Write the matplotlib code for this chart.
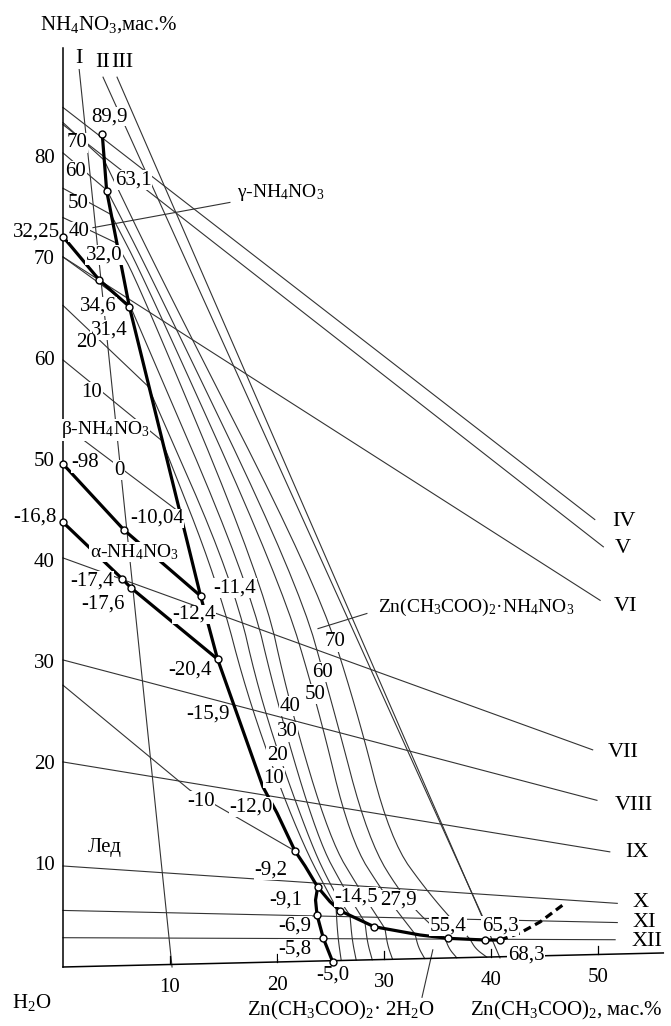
import numpy as np
import matplotlib.pyplot as plt

plt.rcParams['font.family'] = ['Liberation Serif', 'DejaVu Serif']
plt.rcParams['mathtext.fontset'] = 'custom'
plt.rcParams['mathtext.rm'] = 'Liberation Serif'
plt.rcParams['mathtext.it'] = 'Liberation Serif:italic'

# x = Zn(CH3COO)2, mass %; y = NH4NO3, mass %
# bold boundary curves
gamma_x = [3.67, 4.08, 6.20]
gamma_y = [82.44, 76.83, 65.38]
beta_gamma_x = [0.0, 3.39, 6.20]
beta_gamma_y = [72.31, 68.02, 65.38]
beta_ds_x = [6.20, 12.86]
beta_ds_y = [65.38, 36.73]
alpha_beta_x = [0.0, 5.70, 12.86]
alpha_beta_y = [49.8, 43.27, 36.73]
ice_alpha_x = [0.0, 5.54, 6.33, 14.42]
ice_alpha_y = [44.03, 38.42, 37.56, 30.5]
ds_low_x = [12.86, 14.44, 18.69, 20.0, 21.68, 22.62, 23.80]
ds_low_y = [36.73, 30.5, 17.82, 15.25, 11.49, 10.0, 7.92]
ice_hyd_x = [23.80, 23.6, 23.74, 24.33, 25.2]
ice_hyd_y = [7.92, 6.63, 5.15, 2.84, 0.52]
ds_hyd_x = [23.80, 24.95, 25.89, 29.07, 33.36, 35.95, 39.44, 40.84]
ds_hyd_y = [7.92, 6.47, 5.57, 3.99, 3.17, 2.84, 2.67, 2.67]
meta_x = [40.84, 42.71, 44.58, 46.92]
meta_y = [2.67, 3.37, 4.46, 6.31]

# invariant / marked points
pts_x = [3.67, 4.08, 0.0, 3.39, 6.20, 0.0, 5.70, 0.0, 5.54, 6.33, 12.86, 14.44,
         21.68, 23.80, 23.74, 24.33, 25.2, 25.89, 29.07, 35.95, 39.44, 40.84]
pts_y = [82.44, 76.83, 72.31, 68.02, 65.38, 49.8, 43.27, 44.03, 38.42, 37.56, 36.73, 30.5,
         11.49, 7.92, 5.15, 2.84, 0.52, 5.57, 3.99, 2.84, 2.67, 2.67]

# sections I..XII: start and end
sec_names = ['I', 'II', 'III', 'IV', 'V', 'VI', 'VII', 'VIII', 'IX', 'X', 'XI', 'XII']
sec_x0 = [1.50, 3.74, 5.05, 0, 0, 0, 0, 0, 0, 0, 0, 0]
sec_y0 = [89.0, 88.1, 88.1, 85.1, 83.4, 70.3, 40.5, 30.4, 20.3, 10.0, 5.6, 2.9]
sec_x1 = [10.19, 39.25, 40.84, 49.7, 50.5, 50.2, 49.5, 49.9, 51.1, 51.8, 51.8, 51.6]
sec_y1 = [0.0, 4.9, 0.9, 44.3, 41.6, 36.3, 21.5, 16.5, 11.4, 6.3, 4.4, 2.7]

# isotherm branches in the NH4NO3 (gamma, beta) and ice fields
iso_t = [70, 60, 50, 40, 30, 20, 10, 0, -10]
iso_x = [[0, 3.83], [0, 4.11], [0, 4.49], [0, 4.95], [0, 6.26], [0, 7.94],
         [0, 9.25], [0, 10.93], [0, 11.87, 21.68]]
iso_y = [[83.6, 79.9], [80.6, 76.9], [77.1, 74.5], [74.2, 71.7], [70.3, 65.5],
         [65.5, 57.5], [60.1, 52.1], [53.7, 45.0], [27.9, 17.5, 11.49]]

# isotherm branches in the double salt field (last point lies on the boundary)
ds_t = [10, 20, 30, 40, 50, 60, 70]
ds_x = [[9.25, 14.39, 17.48, 22.15],
        [7.94, 15.89, 18.60, 22.99, 25.23],
        [6.26, 17.29, 20.09, 23.83, 26.36],
        [4.95, 6.92, 18.60, 21.21, 24.95, 27.76],
        [4.49, 7.66, 20.28, 23.83, 26.82, 30.09],
        [4.11, 8.41, 21.87, 25.23, 28.50, 31.96],
        [3.83, 9.25, 23.55, 27.38, 30.56, 34.30]]
ds_y = [[52.1, 38.3, 25.8, 12.6],
        [57.5, 38.3, 25.8, 12.6, 7.6],
        [65.5, 38.3, 25.8, 12.6, 7.6],
        [71.7, 68.0, 38.3, 25.8, 12.6, 7.6],
        [74.5, 68.0, 38.3, 25.8, 12.6, 7.1],
        [76.9, 68.0, 38.3, 25.8, 12.6, 6.6],
        [79.9, 68.0, 38.3, 25.8, 12.6, 7.1]]
ds_end_x = [25.51, 26.82, 28.22, 30.09, 32.90, 35.70, 38.04]
# isotherm branches in the Zn(CH3COO)2*2H2O field: foot on the base line
hyd_foot_x = [26.0, 27.4, 28.9, 30.8, 33.8, 36.8, 39.6]

y_ticks = [10, 20, 30, 40, 50, 60, 70, 80]
x_ticks = [10, 20, 30, 40, 50]
base_end = (56.1, 1.39)


def smooth(xs, ys, n=3):
    # corner cutting, end points kept
    p = np.column_stack([xs, ys]).astype(float)
    for _ in range(n):
        q = [p[0]]
        for a, b in zip(p[:-1], p[1:]):
            q.append(0.75 * a + 0.25 * b)
            q.append(0.25 * a + 0.75 * b)
        q.append(p[-1])
        p = np.array(q)
    return p[:, 0], p[:, 1]


fig = plt.figure(figsize=(6.71, 10.26), dpi=100)
ax = fig.add_axes([0, 0, 1, 1])
ax.set_xlim(-5.888, 56.82)
ax.set_ylim(-5.842, 95.74)
ax.axis('off')

thin = dict(color='#333333', lw=0.8, zorder=1)
bold = dict(color='black', lw=2.3, zorder=2, solid_capstyle='round')

# axes
ax.plot([0, 0], [0, 91], color='black', lw=1.1, zorder=2)
ax.plot([0, base_end[0]], [0, base_end[1]], color='black', lw=1.1, zorder=2)
slope = base_end[1] / base_end[0]
for t in x_ticks:
    ax.plot([t, t], [slope * t, slope * t + 0.8], color='black', lw=0.9)
    ax.text(t, slope * t - 2.3, str(t), ha='center', va='center', fontsize=15)
for t in y_ticks:
    ax.text(-0.75, t, str(t), ha='right', va='center', fontsize=15)

# thin lines
for i in range(len(sec_names)):
    ax.plot([sec_x0[i], sec_x1[i]], [sec_y0[i], sec_y1[i]], **thin)
for i in range(len(iso_t)):
    ax.plot(iso_x[i], iso_y[i], **thin)
ds_end_y = np.interp(ds_end_x, ds_hyd_x, ds_hyd_y)
for i in range(len(ds_t)):
    sx, sy = smooth(ds_x[i] + [ds_end_x[i]], ds_y[i] + [ds_end_y[i]])
    ax.plot(sx, sy, **thin)
for xt, yt, xf in zip(ds_end_x, ds_end_y, hyd_foot_x):
    xm = xt + 0.35 * (xf - xt)
    ym = slope * xf + 0.45 * (yt - slope * xf)
    sx, sy = smooth([xt, xm, xf], [yt, ym, slope * xf])
    ax.plot(sx, sy, **thin)

# bold curves
for cx, cy in [(gamma_x, gamma_y), (beta_gamma_x, beta_gamma_y), (beta_ds_x, beta_ds_y),
               (alpha_beta_x, alpha_beta_y), (ice_alpha_x, ice_alpha_y),
               (ds_low_x, ds_low_y), (ice_hyd_x, ice_hyd_y), (ds_hyd_x, ds_hyd_y)]:
    ax.plot(cx, cy, **bold)
ax.plot(meta_x, meta_y, color='black', lw=2.3, ls=(0, (2.5, 1.5)), zorder=2)
ax.plot(pts_x, pts_y, 'o', ms=5, mfc='white', mec='black', mew=1.0, ls='none', zorder=5)

box = dict(fc='white', ec='none', pad=0.3)
fs = 15

# section labels
sec_lx = [1.45, 3.74, 5.5, 51.3, 51.6, 51.5, 50.9, 51.6, 52.5, 53.2, 53.2, 53.1]
sec_ly = [89.9, 89.6, 89.6, 44.1, 41.4, 35.7, 21.2, 16.0, 11.3, 6.4, 4.4, 2.5]
for i, n in enumerate(sec_names):
    ha = 'center' if i < 3 else 'left'
    ax.text(sec_lx[i], sec_ly[i], n, ha=ha, va='center', fontsize=16, bbox=box, zorder=3)

labels = [
    ('89,9', 4.39, 84.2), ('63,1', 6.54, 77.9), ('32,25', -2.5, 72.8), ('40', 1.5, 72.8),
    ('70', 1.31, 81.6), ('60', 1.2, 78.8), ('50', 1.4, 75.6), ('32,0', 3.83, 70.5),
    ('34,6', 3.27, 65.4), ('31,4', 4.3, 63.1), ('20', 2.15, 61.8), ('10', 2.71, 56.9),
    ('-98', 2.05, 49.9), ('0', 5.23, 49.2), ('-16,8', -2.6, 44.5), ('-10,04', 8.79, 44.4),
    ('-17,4', 2.7, 38.2), ('-17,6', 3.74, 35.9), ('-11,4', 16.07, 37.5), ('-12,4', 12.24, 34.9),
    ('-20,4', 11.87, 29.4), ('-15,9', 13.55, 25.0), ('-10', 12.9, 16.4), ('-12,0', 17.57, 15.8),
    ('-9,2', 19.44, 9.6), ('-9,1', 20.84, 6.6), ('-6,9', 21.68, 4.1), ('-5,8', 21.68, 1.8),
    ('-5,0', 25.23, -0.8), ('-14,5', 27.38, 6.9), ('27,9', 31.31, 6.6), ('55,4', 35.98, 4.1),
    ('65,3', 40.84, 4.1), ('68,3', 43.27, 1.2),
    ('70', 25.42, 32.2), ('60', 24.21, 29.2), ('50', 23.55, 27.0), ('40', 21.21, 25.8),
    ('30', 20.93, 23.3), ('20', 20.0, 20.9), ('10', 19.72, 18.7),
]
for s, lx, ly in labels:
    ax.text(lx, ly, s, ha='center', va='center', fontsize=fs, bbox=box, zorder=3)

ax.text(3.93, 53.2, 'β-NH$_4$NO$_3$', ha='center', va='center', fontsize=14, bbox=box, zorder=3)
ax.text(6.64, 41.1, 'α-NH$_4$NO$_3$', ha='center', va='center', fontsize=14, bbox=box, zorder=3)
ax.text(20.3, 76.7, 'γ-NH$_4$NO$_3$', ha='center', va='center', fontsize=14, bbox=box, zorder=3)
ax.plot([2.8, 15.6], [73.2, 75.7], **thin)
ax.text(38.6, 35.6, 'Zn(CH$_3$COO)$_2$·NH$_4$NO$_3$', ha='center', va='center', fontsize=14, zorder=3)
ax.plot([23.83, 28.4], [33.5, 35.0], **thin)
ax.text(3.93, 11.8, 'Лед', ha='center', va='center', fontsize=15)

ax.text(4.3, 93.3, 'NH$_4$NO$_3$,мас.%', ha='center', va='center', fontsize=15)
ax.text(-2.9, -3.5, 'H$_2$O', ha='center', va='center', fontsize=15)
ax.text(25.98, -4.3, 'Zn(CH$_3$COO)$_2$· 2H$_2$O', ha='center', va='center', fontsize=15)
ax.text(47.0, -4.3, 'Zn(CH$_3$COO)$_2$, мас.%', ha='center', va='center', fontsize=15)
ax.plot([33.55, 34.56], [-3.0, 1.7], **thin)

fig.savefig('out.png', dpi=100)
